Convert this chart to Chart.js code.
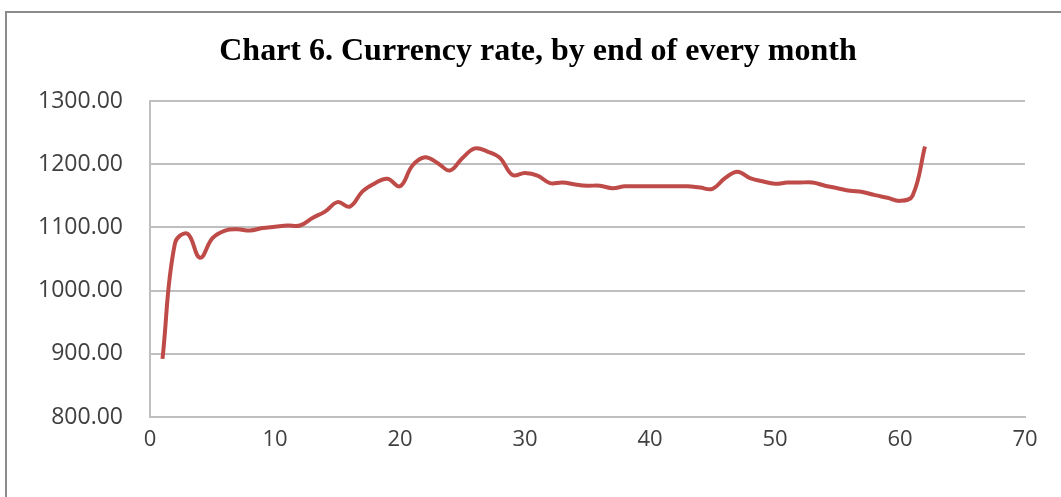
<!DOCTYPE html>
<html>
<head>
<meta charset="utf-8">
<script src="https://cdn.jsdelivr.net/npm/chart.js@4/dist/chart.umd.min.js"></script>
<style>
  html, body { margin: 0; padding: 0; background: #fff; overflow: hidden; }
  #frame {
    position: absolute; left: 5px; top: 11px; width: 1100px; height: 520px;
    border-left: 2px solid #8c8c8c; border-top: 2px solid #8c8c8c;
  }
  #wrap { position: absolute; left: 0; top: 0; width: 1061px; height: 497px; }
</style>
</head>
<body>
<div id="frame"></div>
<div id="wrap"><canvas id="rateChart" width="1061" height="497"></canvas></div>
<script>
// Month index and end-of-month currency rate
const months = [1, 2, 3, 4, 5, 6, 7, 8, 9, 10, 11, 12, 13, 14, 15, 16, 17, 18, 19, 20,
                21, 22, 23, 24, 25, 26, 27, 28, 29, 30, 31, 32, 33, 34, 35, 36, 37, 38, 39, 40,
                41, 42, 43, 44, 45, 46, 47, 48, 49, 50, 51, 52, 53, 54, 55, 56, 57, 58, 59, 60,
                61, 62];
const rates = [892, 1075, 1090, 1052, 1083, 1095, 1097, 1095, 1099, 1101, 1103, 1103, 1115, 1125, 1140, 1133, 1157, 1170, 1177, 1165,
               1198, 1211, 1202, 1190, 1210, 1225, 1220, 1210, 1183, 1186, 1182, 1170, 1171, 1168, 1166, 1166, 1162, 1165, 1165, 1165,
               1165, 1165, 1165, 1163, 1161, 1178, 1188, 1178, 1173, 1169, 1171, 1171, 1171, 1166, 1162, 1158, 1156, 1151, 1147, 1142,
               1150, 1228];
const xTicks = [0, 10, 20, 30, 40, 50, 60, 70];
const yTicks = [800, 900, 1000, 1100, 1200, 1300];
const chartTitle = 'Chart 6. Currency rate, by end of every month';

const points = months.map((m, i) => ({ x: m, y: rates[i] }));

// Title is centred over the framed box rather than the canvas, so draw it by hand
const frameTitle = {
    id: 'frameTitle',
    afterDraw(chart) {
        const ctx = chart.ctx;
        ctx.save();
        ctx.fillStyle = '#000';
        ctx.font = 'bold 32px "Liberation Serif", serif';
        ctx.textAlign = 'center';
        ctx.textBaseline = 'middle';
        ctx.fillText(chartTitle, 538, 52);
        ctx.restore();
    }
};

new Chart(document.getElementById('rateChart').getContext('2d'), {
    type: 'line',
    data: {
        datasets: [{
            label: 'Currency rate',
            data: points,
            borderColor: '#be4b48',
            borderWidth: 4,
            pointRadius: 0,
            tension: 0.4,
            fill: false
        }]
    },
    options: {
        responsive: false,
        animation: false,
        layout: { padding: { top: 101, right: 36, left: 0, bottom: 0 } },
        plugins: {
            legend: { display: false },
            tooltip: { enabled: false },
            title: { display: false }
        },
        scales: {
            x: {
                type: 'linear',
                min: 0,
                max: 70,
                afterBuildTicks: scale => { scale.ticks = xTicks.map(v => ({ value: v })); },
                afterFit: scale => { scale.height = 80; },
                grid: { display: false, drawTicks: false },
                border: { display: true, color: '#bfbfbf', width: 2 },
                ticks: {
                    padding: 10,
                    color: '#404040',
                    font: { family: '"Open Sans", sans-serif', size: 22 }
                }
            },
            y: {
                min: 800,
                max: 1300,
                afterBuildTicks: scale => { scale.ticks = yTicks.map(v => ({ value: v })); },
                afterFit: scale => { scale.width = 150; },
                grid: { color: '#bfbfbf', lineWidth: 2, drawTicks: false },
                border: { display: true, color: '#bfbfbf', width: 2 },
                ticks: {
                    padding: 27,
                    color: '#404040',
                    font: { family: '"Open Sans", sans-serif', size: 23 },
                    callback: v => v.toFixed(2)
                }
            }
        }
    },
    plugins: [frameTitle]
});
</script>
</body>
</html>
